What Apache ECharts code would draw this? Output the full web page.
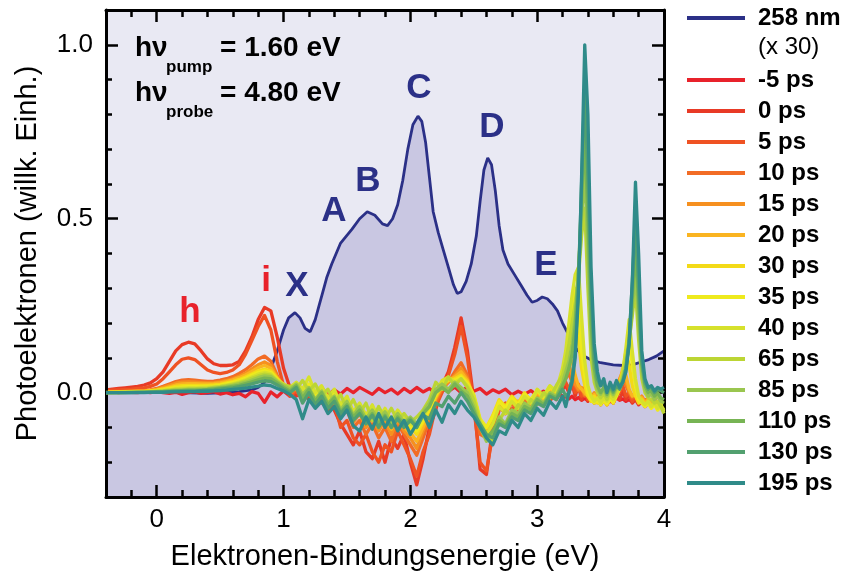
<!DOCTYPE html>
<html><head><meta charset="utf-8">
<script src="https://cdn.jsdelivr.net/npm/echarts@6/dist/echarts.min.js"></script>
<style>html,body{margin:0;padding:0;background:#fff}#chart{width:843px;height:581px}</style>
</head><body><div id="chart"></div>
<script>
const FONT = '"Liberation Sans", Arial, Helvetica, sans-serif';

// Binding energy grid (eV) for the difference spectra
const energy = [-0.40,-0.35,-0.30,-0.25,-0.20,-0.15,-0.10,-0.05,0.00,0.05,0.10,0.15,0.20,0.25,0.30,0.35,0.40,0.45,0.50,0.55,0.60,0.65,0.70,0.75,0.80,0.85,0.90,0.95,
1.00,1.05,1.10,1.15,1.20,1.25,1.30,1.35,1.40,1.45,1.50,1.55,1.60,1.65,1.70,1.75,1.80,1.85,1.90,1.95,2.00,2.05,2.10,2.15,2.20,2.25,2.30,2.35,2.40,2.45,2.50,2.55,2.60,2.65,2.70,2.75,2.80,2.85,2.90,2.95,3.00,3.05,3.10,3.15,3.20,
3.225,3.25,3.275,3.30,3.325,3.35,3.375,3.40,3.425,3.45,3.475,3.50,3.525,3.55,3.575,3.60,3.625,3.65,3.675,3.70,3.725,3.75,3.775,3.80,3.825,3.85,3.875,3.90,3.925,3.95,3.975,4.00];

// 258 nm spectrum (x 30)
const nm258Energy = [-0.40,-0.20,0.00,0.20,0.40,0.55,0.65,0.75,0.80,0.85,0.90,0.95,1.00,1.04,1.09,1.13,1.17,1.21,1.25,1.28,1.31,1.34,1.38,1.45,1.54,1.60,1.66,1.72,1.78,1.82,1.86,1.90,1.94,1.98,2.02,2.06,2.09,2.12,2.15,2.18,2.22,2.26,2.30,2.34,2.37,2.40,2.44,2.48,2.52,2.55,2.58,2.61,2.64,2.67,2.70,2.73,2.77,2.82,2.87,2.92,2.96,3.00,3.04,3.08,3.12,3.16,3.20,3.25,3.30,3.36,3.42,3.50,3.60,3.68,3.75,3.82,3.88,3.94,4.00];
const nm258Intensity = [0.005,0.003,0.002,0.000,-0.002,0.000,0.003,0.008,0.015,0.03,0.07,0.12,0.18,0.215,0.23,0.215,0.185,0.175,0.21,0.25,0.29,0.33,0.37,0.43,0.47,0.50,0.52,0.51,0.485,0.48,0.50,0.54,0.61,0.70,0.77,0.795,0.78,0.72,0.62,0.52,0.46,0.41,0.36,0.31,0.285,0.29,0.32,0.37,0.45,0.55,0.64,0.675,0.655,0.58,0.48,0.41,0.37,0.34,0.31,0.28,0.26,0.265,0.275,0.27,0.255,0.235,0.20,0.165,0.13,0.107,0.095,0.086,0.08,0.078,0.08,0.088,0.095,0.105,0.12];

// Difference spectra for each pump-probe delay
const psM5 = [0.000,0.002,0.000,0.003,0.001,0.000,0.002,0.000,0.003,0.000,-0.002,0.001,-0.005,0.000,0.002,-0.002,0.000,0.003,-0.004,0.000,-0.006,-0.002,-0.012,0.003,-0.002,-0.028,0.002,-0.012,
0.005,-0.010,0.010,-0.005,0.012,0.000,0.015,-0.008,0.008,-0.004,0.012,0.000,0.015,0.005,-0.005,0.012,0.000,0.010,-0.004,0.012,0.000,0.015,0.002,0.012,-0.002,0.010,0.004,0.016,0.000,0.018,0.004,0.012,-0.004,0.008,0.000,0.010,-0.006,0.004,-0.005,0.006,-0.008,0.004,-0.006,0.002,-0.010,
-0.012,-0.018,-0.010,-0.020,-0.014,-0.022,-0.016,-0.024,-0.018,-0.026,-0.020,-0.015,-0.024,-0.018,-0.026,-0.020,-0.015,-0.022,-0.018,-0.025,-0.020,-0.028,-0.018,-0.024,-0.030,-0.020,-0.026,-0.032,-0.022,-0.030,-0.035,-0.028];
const ps0 = [0.008,0.010,0.012,0.014,0.016,0.018,0.022,0.028,0.040,0.060,0.090,0.120,0.138,0.145,0.140,0.120,0.097,0.083,0.078,0.078,0.080,0.090,0.120,0.160,0.210,0.245,0.235,0.160,
0.070,0.015,-0.010,0.000,-0.020,-0.005,-0.030,-0.020,-0.050,-0.090,-0.120,-0.150,-0.110,-0.170,-0.190,-0.140,-0.200,-0.130,-0.160,-0.120,-0.200,-0.265,-0.190,-0.100,-0.050,0.020,0.060,0.130,0.215,0.120,-0.020,-0.220,-0.235,-0.100,-0.040,-0.060,-0.020,-0.040,-0.015,-0.035,-0.010,-0.030,0.000,-0.020,0.010,
0.020,0.000,0.025,-0.010,0.020,-0.020,0.010,-0.025,-0.010,-0.030,-0.015,-0.035,-0.020,-0.030,-0.015,-0.030,-0.010,-0.020,0.005,-0.020,-0.005,-0.030,-0.020,-0.035,-0.025,-0.040,-0.030,-0.038,-0.025,-0.040,-0.030,-0.042];
const ps5 = [0.006,0.007,0.008,0.009,0.010,0.012,0.014,0.018,0.025,0.040,0.060,0.080,0.096,0.100,0.095,0.080,0.065,0.058,0.055,0.058,0.065,0.080,0.110,0.150,0.190,0.222,0.180,0.090,
0.020,-0.010,0.005,-0.020,-0.005,-0.035,-0.015,-0.050,-0.030,-0.100,-0.080,-0.130,-0.150,-0.120,-0.170,-0.200,-0.150,-0.170,-0.110,-0.150,-0.190,-0.240,-0.170,-0.120,-0.040,0.000,0.050,0.110,0.190,0.100,-0.040,-0.200,-0.225,-0.120,-0.050,-0.030,-0.050,-0.025,-0.040,-0.020,-0.030,-0.010,-0.025,0.005,0.020,
0.030,0.010,0.035,0.000,0.025,-0.010,0.015,-0.020,-0.005,-0.025,-0.010,-0.030,-0.015,-0.035,-0.020,-0.030,-0.010,0.000,0.020,-0.010,0.000,-0.025,-0.010,-0.030,-0.020,-0.035,-0.025,-0.040,-0.030,-0.038,-0.028,-0.040];
const ps10 = [0.002,0.003,0.003,0.004,0.004,0.005,0.006,0.008,0.012,0.018,0.025,0.032,0.036,0.037,0.036,0.034,0.032,0.033,0.036,0.040,0.046,0.055,0.066,0.080,0.097,0.105,0.090,0.050,
0.015,-0.005,0.010,-0.015,0.005,-0.025,-0.010,-0.040,-0.020,-0.070,-0.050,-0.100,-0.080,-0.120,-0.090,-0.130,-0.100,-0.140,-0.090,-0.120,-0.150,-0.180,-0.130,-0.080,-0.030,0.010,0.030,0.060,0.086,0.050,-0.030,-0.120,-0.130,-0.090,-0.040,-0.060,-0.030,-0.050,-0.020,-0.040,-0.015,-0.030,0.000,-0.015,0.020,
0.040,0.055,0.030,0.020,0.005,0.010,-0.010,0.000,-0.020,-0.005,-0.025,-0.010,-0.020,-0.030,-0.015,-0.025,0.000,0.030,0.050,0.020,0.000,-0.015,-0.005,-0.025,-0.015,-0.030,-0.020,-0.035,-0.025,-0.030,-0.020,-0.035];
const ps15 = [0.002,0.002,0.003,0.003,0.004,0.004,0.005,0.007,0.010,0.015,0.021,0.027,0.030,0.031,0.030,0.029,0.028,0.029,0.031,0.035,0.040,0.047,0.056,0.068,0.080,0.088,0.078,0.045,
0.018,0.000,0.015,-0.010,0.010,-0.020,0.000,-0.035,-0.015,-0.060,-0.040,-0.085,-0.060,-0.100,-0.075,-0.110,-0.080,-0.120,-0.080,-0.110,-0.130,-0.160,-0.110,-0.070,-0.020,0.015,0.030,0.050,0.070,0.040,-0.020,-0.100,-0.120,-0.080,-0.030,-0.050,-0.020,-0.040,-0.010,-0.035,-0.005,-0.025,0.005,-0.010,0.030,
0.060,0.080,0.050,0.025,0.010,0.015,-0.005,0.005,-0.015,0.000,-0.020,-0.005,-0.015,-0.025,-0.010,-0.020,0.010,0.040,0.060,0.030,0.005,-0.010,0.000,-0.020,-0.010,-0.025,-0.015,-0.030,-0.020,-0.028,-0.018,-0.030];
const ps20 = [0.001,0.002,0.002,0.003,0.003,0.004,0.004,0.006,0.008,0.012,0.017,0.022,0.025,0.026,0.026,0.025,0.025,0.026,0.028,0.032,0.037,0.043,0.051,0.061,0.072,0.078,0.070,0.042,
0.020,0.005,0.020,-0.005,0.015,-0.015,0.005,-0.030,-0.010,-0.050,-0.030,-0.075,-0.050,-0.090,-0.060,-0.100,-0.070,-0.105,-0.070,-0.100,-0.115,-0.140,-0.100,-0.060,-0.015,0.020,0.035,0.045,0.060,0.035,-0.015,-0.090,-0.110,-0.070,-0.025,-0.045,-0.015,-0.035,-0.005,-0.030,0.000,-0.020,0.010,-0.005,0.040,
0.070,0.100,0.090,0.050,0.020,0.010,0.000,-0.010,-0.020,-0.005,-0.025,-0.010,-0.020,-0.030,-0.015,-0.020,0.000,0.030,0.070,0.050,0.010,-0.010,-0.005,-0.025,-0.015,-0.030,-0.020,-0.035,-0.025,-0.032,-0.022,-0.038];
const ps30 = [0.001,0.001,0.002,0.002,0.002,0.003,0.003,0.005,0.007,0.010,0.014,0.018,0.020,0.021,0.021,0.021,0.021,0.022,0.024,0.028,0.032,0.038,0.045,0.054,0.063,0.068,0.062,0.040,
0.020,0.010,0.025,0.000,0.020,-0.010,0.010,-0.025,-0.005,-0.045,-0.020,-0.065,-0.040,-0.080,-0.050,-0.090,-0.060,-0.095,-0.060,-0.090,-0.100,-0.120,-0.085,-0.050,-0.010,0.025,0.035,0.040,0.050,0.030,-0.010,-0.080,-0.100,-0.065,-0.020,-0.040,-0.010,-0.030,0.000,-0.025,0.005,-0.015,0.015,0.000,0.050,
0.080,0.120,0.170,0.220,0.150,0.070,0.020,-0.010,-0.025,-0.010,-0.030,-0.015,-0.025,-0.035,-0.020,-0.025,-0.005,0.020,0.060,0.120,0.080,0.020,-0.010,-0.030,-0.020,-0.035,-0.025,-0.040,-0.030,-0.040,-0.030,-0.045];
const ps35 = [0.001,0.001,0.001,0.002,0.002,0.002,0.003,0.004,0.006,0.008,0.011,0.014,0.016,0.017,0.017,0.017,0.018,0.019,0.021,0.025,0.029,0.034,0.041,0.050,0.058,0.063,0.058,0.038,
0.022,0.012,0.028,0.005,0.025,-0.005,0.015,-0.020,0.000,-0.040,-0.015,-0.060,-0.035,-0.070,-0.045,-0.080,-0.055,-0.090,-0.055,-0.085,-0.095,-0.110,-0.080,-0.045,-0.005,0.030,0.040,0.035,0.045,0.025,-0.005,-0.075,-0.100,-0.070,-0.025,-0.045,-0.015,-0.035,-0.005,-0.020,0.008,-0.012,0.018,0.005,0.060,
0.100,0.150,0.220,0.300,0.240,0.120,0.050,0.000,-0.020,-0.030,-0.020,-0.035,-0.020,-0.030,-0.015,-0.030,-0.010,0.010,0.040,0.100,0.160,0.080,0.020,-0.020,-0.030,-0.040,-0.030,-0.045,-0.035,-0.050,-0.040,-0.055];
const ps40 = [0.000,0.001,0.001,0.001,0.002,0.002,0.002,0.003,0.005,0.007,0.009,0.012,0.013,0.014,0.014,0.015,0.016,0.017,0.019,0.022,0.026,0.031,0.037,0.045,0.053,0.058,0.054,0.036,
0.025,0.015,0.030,0.010,0.045,0.000,0.020,-0.015,0.010,-0.035,-0.010,-0.055,-0.030,-0.065,-0.035,-0.075,-0.045,-0.080,-0.050,-0.075,-0.090,-0.100,-0.070,-0.040,0.000,0.035,0.045,0.030,0.040,0.020,-0.010,-0.080,-0.120,-0.090,-0.040,-0.060,-0.025,-0.045,-0.010,-0.030,0.010,-0.010,0.020,0.005,0.070,
0.120,0.200,0.280,0.340,0.360,0.220,0.090,0.020,-0.010,-0.025,-0.015,-0.030,-0.015,-0.025,-0.010,-0.020,-0.005,0.020,0.060,0.130,0.210,0.120,0.040,-0.010,-0.025,-0.035,-0.025,-0.040,-0.030,-0.045,-0.035,-0.050];
const ps65 = [0.000,0.000,0.001,0.001,0.001,0.002,0.002,0.003,0.004,0.005,0.007,0.009,0.010,0.011,0.011,0.012,0.013,0.015,0.017,0.020,0.024,0.028,0.034,0.041,0.048,0.053,0.050,0.034,
0.022,0.018,0.010,0.035,0.005,0.025,-0.010,0.010,-0.030,-0.005,-0.050,-0.020,-0.060,-0.030,-0.080,-0.040,-0.075,-0.045,-0.080,-0.060,-0.085,-0.070,-0.050,-0.020,0.030,0.010,0.045,0.020,0.040,0.015,-0.020,-0.090,-0.130,-0.140,-0.080,-0.050,-0.070,-0.035,-0.050,-0.020,-0.035,0.000,-0.015,0.020,0.050,
0.090,0.140,0.200,0.260,0.330,0.450,0.530,0.300,0.100,0.030,0.000,-0.015,0.000,-0.020,0.005,-0.010,0.010,0.020,0.050,0.100,0.150,0.220,0.300,0.150,0.040,0.000,-0.015,-0.020,-0.030,-0.025,-0.040,-0.060];
const ps85 = [0.000,0.000,0.000,0.001,0.001,0.001,0.002,0.002,0.003,0.004,0.006,0.007,0.008,0.009,0.009,0.010,0.011,0.013,0.015,0.018,0.021,0.025,0.030,0.036,0.043,0.048,0.046,0.032,
0.020,0.010,0.025,-0.005,0.015,-0.020,0.005,-0.030,-0.010,-0.050,-0.025,-0.065,-0.040,-0.075,-0.050,-0.080,-0.055,-0.090,-0.060,-0.085,-0.070,-0.090,-0.055,-0.030,0.010,0.025,0.010,0.030,0.015,0.000,-0.040,-0.100,-0.140,-0.120,-0.070,-0.090,-0.050,-0.060,-0.030,-0.045,-0.015,-0.030,0.000,-0.010,0.030,
0.060,0.090,0.140,0.220,0.350,0.500,0.640,0.400,0.150,0.050,0.010,-0.005,0.010,-0.010,0.010,-0.005,0.015,0.020,0.040,0.080,0.140,0.240,0.350,0.200,0.060,0.010,-0.010,-0.005,-0.020,-0.010,-0.025,-0.030];
const ps110 = [0.000,0.000,0.000,0.000,0.001,0.001,0.001,0.002,0.002,0.003,0.004,0.005,0.006,0.007,0.007,0.008,0.009,0.011,0.013,0.015,0.018,0.021,0.026,0.031,0.037,0.042,0.040,0.028,
0.015,0.005,0.020,-0.015,0.010,-0.025,0.000,-0.035,-0.015,-0.055,-0.035,-0.070,-0.050,-0.085,-0.060,-0.090,-0.065,-0.100,-0.070,-0.090,-0.075,-0.100,-0.060,-0.040,0.000,0.015,0.000,0.025,0.005,-0.010,-0.050,-0.100,-0.130,-0.110,-0.080,-0.095,-0.060,-0.070,-0.040,-0.050,-0.020,-0.035,-0.005,-0.015,0.020,
0.040,0.070,0.110,0.190,0.350,0.550,0.750,0.500,0.200,0.070,0.020,0.000,0.015,-0.005,0.015,0.000,0.020,0.015,0.035,0.070,0.140,0.270,0.420,0.250,0.080,0.020,0.000,0.005,-0.010,0.000,-0.015,-0.020];
const ps130 = [0.000,0.000,0.000,0.000,0.000,0.001,0.001,0.001,0.002,0.002,0.003,0.004,0.004,0.005,0.005,0.006,0.007,0.008,0.010,0.012,0.014,0.017,0.021,0.025,0.030,0.034,0.032,0.022,
0.010,0.000,0.015,-0.030,0.000,-0.035,-0.010,-0.045,-0.025,-0.060,-0.040,-0.080,-0.060,-0.090,-0.065,-0.100,-0.070,-0.100,-0.075,-0.100,-0.080,-0.100,-0.065,-0.075,-0.030,-0.040,-0.010,-0.030,0.000,-0.025,-0.060,-0.090,-0.120,-0.130,-0.090,-0.100,-0.070,-0.080,-0.050,-0.060,-0.030,-0.040,-0.010,-0.020,0.010,
-0.010,0.000,0.040,0.120,0.300,0.600,0.880,0.620,0.280,0.100,0.040,0.020,0.025,0.010,0.020,0.005,0.020,0.010,0.030,0.070,0.150,0.320,0.500,0.300,0.090,0.030,0.010,0.015,0.000,0.010,0.005,0.000];
const ps195 = [0.000,0.000,0.000,0.000,0.000,0.000,0.000,0.001,0.001,0.001,0.002,0.002,0.003,0.003,0.003,0.004,0.004,0.005,0.006,0.007,0.009,0.011,0.013,0.016,0.019,0.022,0.020,0.012,
0.005,-0.005,-0.020,-0.075,-0.020,-0.045,-0.025,-0.060,-0.040,-0.075,-0.050,-0.095,-0.110,-0.070,-0.105,-0.060,-0.100,-0.070,-0.110,-0.080,-0.120,-0.090,-0.060,-0.100,-0.050,-0.085,-0.035,-0.060,-0.025,-0.050,-0.070,-0.100,-0.130,-0.150,-0.110,-0.120,-0.080,-0.100,-0.060,-0.080,-0.045,-0.065,-0.025,-0.045,-0.010,
-0.040,0.000,0.030,0.100,0.280,0.620,1.000,0.800,0.360,0.140,0.060,0.020,0.040,0.000,0.030,0.010,0.035,0.015,0.030,0.060,0.140,0.320,0.605,0.400,0.120,0.040,0.015,0.020,0.005,0.015,0.010,0.015];

const delayNames = ['-5 ps','0 ps','5 ps','10 ps','15 ps','20 ps','30 ps','35 ps','40 ps','65 ps','85 ps','110 ps','130 ps','195 ps'];
const delayValues = [psM5, ps0, ps5, ps10, ps15, ps20, ps30, ps35, ps40, ps65, ps85, ps110, ps130, ps195];
const delayColors = ['#e8222b','#e83a26','#ef5223','#f26c25','#f6901f','#fab421','#f3da17','#eeea1d','#d6e12c','#bcd534','#9ac64f','#77b454','#52a06f','#2f8b89'];
const refName = '258 nm';
const refColor = '#2b3087';

const xMajorTicks = [0, 1, 2, 3, 4];
const yMajorTicks = [0, 0.5, 1.0];
const peakLabels = [
  {t:'h', x:190, y:312, c:'#e8222b'}, {t:'i', x:266, y:281, c:'#e8222b'},
  {t:'X', x:297, y:286, c:refColor}, {t:'A', x:334, y:211, c:refColor},
  {t:'B', x:368, y:181, c:refColor}, {t:'C', x:419, y:88, c:refColor},
  {t:'D', x:492, y:127, c:refColor}, {t:'E', x:546, y:265, c:refColor}
];

delayValues.forEach((s, i) => { if (s.length !== energy.length) throw new Error('length mismatch ' + delayNames[i] + ': ' + s.length); });
if (nm258Energy.length !== nm258Intensity.length) throw new Error('258 nm mismatch');

const chart = echarts.init(document.getElementById('chart'), null, {renderer: 'canvas'});

const blk = '#000';
const tickStyle = {color: blk, width: 2.5};
function xAx(pos, opts) {
  return Object.assign({type:'value', min:-0.4, max:4, position:pos, gridIndex:0,
    splitLine:{show:false}, axisLabel:{show:false}, axisLine:{show:false, onZero:false}}, opts);
}
function yAx(pos, opts) {
  return Object.assign({type:'value', min:-0.3, max:1.1, position:pos, gridIndex:0,
    splitLine:{show:false}, axisLabel:{show:false}, axisLine:{show:false, onZero:false}}, opts);
}

const series = [{
  name: refName, type: 'line', xAxisIndex: 0, yAxisIndex: 0, symbol: 'none',
  data: nm258Energy.map((e, i) => [e, nm258Intensity[i]]),
  lineStyle: {color: refColor, width: 2.8}, itemStyle: {color: refColor},
  areaStyle: {color: '#c9c7e2', opacity: 1, origin: 'start'}, z: 2
}];
delayValues.forEach((vals, k) => {
  series.push({
    name: delayNames[k], type: 'line', xAxisIndex: 0, yAxisIndex: 0, symbol: 'none',
    data: energy.map((e, i) => [e, vals[i]]),
    lineStyle: {color: delayColors[k], width: 3.3, join: 'round'},
    itemStyle: {color: delayColors[k]}, z: 3 + k
  });
});

const legendText = {fontSize: 24, fontWeight: 'bold', color: blk, fontFamily: FONT, lineHeight: 24, padding: [0,0,0,8]};
const graphics = [
  {type:'text', x:758, y:47, style:{text:'(x 30)', font:'24px ' + FONT, fill:blk, align:'left', verticalAlign:'middle'}},
  {type:'text', x:135, y:48, style:{text:'h\u03bd', font:'bold 28px ' + FONT, fill:blk, align:'left', verticalAlign:'middle'}},
  {type:'text', x:166, y:67, style:{text:'pump', font:'bold 17px ' + FONT, fill:blk, align:'left', verticalAlign:'middle'}},
  {type:'text', x:220, y:48, style:{text:'= 1.60 eV', font:'bold 28px ' + FONT, fill:blk, align:'left', verticalAlign:'middle'}},
  {type:'text', x:135, y:93, style:{text:'h\u03bd', font:'bold 28px ' + FONT, fill:blk, align:'left', verticalAlign:'middle'}},
  {type:'text', x:166, y:112, style:{text:'probe', font:'bold 17px ' + FONT, fill:blk, align:'left', verticalAlign:'middle'}},
  {type:'text', x:220, y:93, style:{text:'= 4.80 eV', font:'bold 28px ' + FONT, fill:blk, align:'left', verticalAlign:'middle'}}
];
peakLabels.forEach(p => graphics.push({type:'text', x:p.x, y:p.y, z:100,
  style:{text:p.t, font:'bold 35px ' + FONT, fill:p.c, align:'center', verticalAlign:'middle'}}));

const option = {
  animation: false,
  backgroundColor: '#ffffff',
  textStyle: {fontFamily: FONT},
  grid: {left: 106, right: 179, top: 10, bottom: 84, show: true, backgroundColor: '#e9e9f3', borderWidth: 0},
  xAxis: [
    xAx('bottom', {interval: 0.2,
      axisLine: {show: true, onZero: false, lineStyle: {color: blk, width: 3}},
      axisTick: {show: true, inside: true, length: 7, lineStyle: tickStyle},
      axisLabel: {show: true, margin: 10, fontSize: 26, color: blk, fontFamily: FONT,
        formatter: v => Math.abs(v - Math.round(v)) < 1e-6 ? String(Math.round(v)) : ''},
      name: 'Elektronen-Bindungsenergie (eV)', nameLocation: 'middle', nameGap: 45,
      nameTextStyle: {fontSize: 29, color: blk, fontFamily: FONT}, z: 10}),
    xAx('bottom', {axisTick: {show: true, inside: true, length: 12, customValues: xMajorTicks, lineStyle: tickStyle}, z: 10}),
    xAx('top', {interval: 0.2,
      axisLine: {show: true, onZero: false, lineStyle: {color: blk, width: 3}},
      axisTick: {show: true, inside: true, length: 7, lineStyle: tickStyle}, z: 10}),
    xAx('top', {axisTick: {show: true, inside: true, length: 12, customValues: xMajorTicks, lineStyle: tickStyle}, z: 10})
  ],
  yAxis: [
    yAx('left', {interval: 0.1,
      axisLine: {show: true, onZero: false, lineStyle: {color: blk, width: 3}},
      axisTick: {show: true, inside: true, length: 6, lineStyle: tickStyle},
      axisLabel: {show: true, margin: 13, fontSize: 26, color: blk, fontFamily: FONT,
        formatter: v => Math.abs(v * 2 - Math.round(v * 2)) < 1e-6 ? v.toFixed(1) : ''},
      name: 'Photoelektronen (willk. Einh.)', nameLocation: 'middle', nameGap: 64, nameRotate: 90,
      nameTextStyle: {fontSize: 29, color: blk, fontFamily: FONT}, z: 10}),
    yAx('left', {axisTick: {show: true, inside: true, length: 12, customValues: yMajorTicks, lineStyle: tickStyle}, z: 10}),
    yAx('right', {interval: 0.1,
      axisLine: {show: true, onZero: false, lineStyle: {color: blk, width: 3}},
      axisTick: {show: true, inside: true, length: 6, lineStyle: tickStyle}, z: 10}),
    yAx('right', {axisTick: {show: true, inside: true, length: 12, customValues: yMajorTicks, lineStyle: tickStyle}, z: 10})
  ],
  legend: [
    {data: [refName], orient: 'vertical', left: 687, top: 6, padding: 0, itemWidth: 58, itemHeight: 4,
      itemGap: 7, icon: 'rect', selectedMode: false, textStyle: legendText},
    {data: delayNames, orient: 'vertical', left: 687, top: 68, padding: 0, itemWidth: 58, itemHeight: 4,
      itemGap: 7, icon: 'rect', selectedMode: false, textStyle: legendText}
  ],
  graphic: graphics,
  series: series
};
chart.setOption(option);
</script>
</body></html>
